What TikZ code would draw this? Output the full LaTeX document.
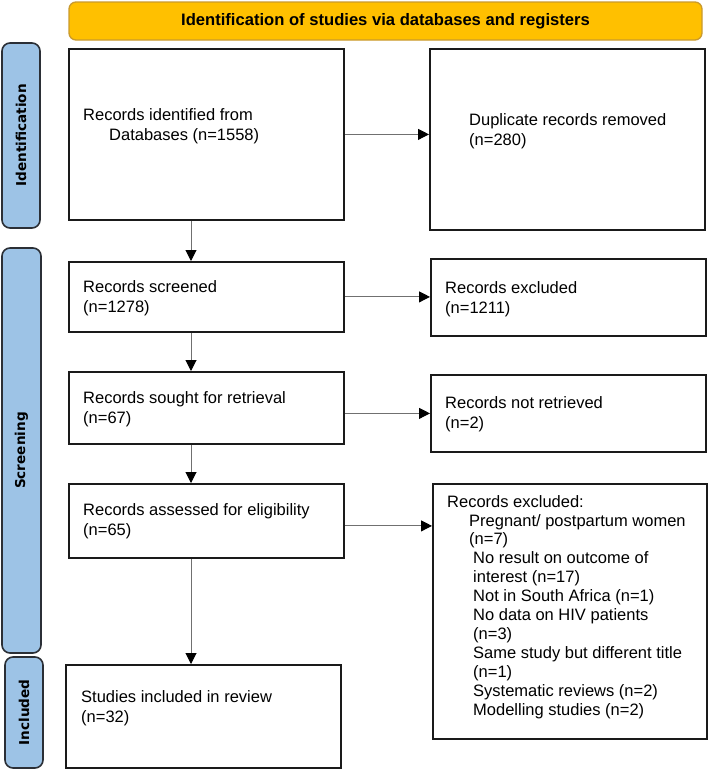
\documentclass[tikz,border=0pt]{standalone}
\usepackage{fontspec}
\setmainfont{Liberation Sans}
\newfontfamily\sidefont{DejaVu Sans}
\usetikzlibrary{arrows.meta,calc}
\definecolor{bannerfill}{HTML}{FFC000}
\definecolor{bannerborder}{HTML}{C99A2E}
\definecolor{sidefill}{HTML}{9DC3E6}
\definecolor{sideborder}{HTML}{2B2F36}
\definecolor{arrowgray}{HTML}{707070}
\definecolor{boxborder}{HTML}{1A1A1A}
\begin{document}
\begin{tikzpicture}[x=1pt,y=-1pt,
  box/.style={draw=boxborder, line width=1.8pt, fill=white, inner sep=0pt, anchor=north west},
  txt/.style={font=\fontsize{16.5}{19.3}\selectfont, align=left, inner sep=0pt, anchor=base west},
  side/.style={draw=sideborder, line width=1.6pt, fill=sidefill, rounded corners=8pt, inner sep=0pt, rotate=90,
    font=\sidefont\bfseries\fontsize{13.6}{15}\selectfont},
  arr/.style={draw=arrowgray, line width=1pt, -{Triangle[length=11pt,width=11pt,color=black]}}]
\useasboundingbox (0,0) rectangle (708,771);

% banner
\node[draw=bannerborder, line width=1.3pt, fill=bannerfill, rounded corners=7pt,
  minimum width=633pt, minimum height=38pt, inner sep=0pt,
  font=\bfseries\fontsize{16.6}{18}\selectfont] (banner) at (385.5,21)
  {Identification of studies via databases and registers};

% side bars
\node[side, minimum width=185pt, minimum height=38pt] (sident) at (21,135.5) {Identification};
\node[side, minimum width=405pt, minimum height=39pt] (sscreen) at (21.5,450.5) {Screening};
\node[side, minimum width=111pt, minimum height=38pt] (sincl) at (24,712.5) {Included};

% boxes
\node[box, minimum width=275pt, minimum height=171pt] (box1) at (68,48) {};
\node[box, minimum width=275pt, minimum height=181pt] (box2) at (429,48) {};
\node[box, minimum width=275pt, minimum height=70pt] (scr) at (68,261) {};
\node[box, minimum width=275pt, minimum height=77pt] (exc) at (430,258) {};
\node[box, minimum width=275pt, minimum height=72pt] (ret) at (68,371) {};
\node[box, minimum width=275pt, minimum height=77pt] (nret) at (430,374) {};
\node[box, minimum width=275pt, minimum height=74pt] (elig) at (68,483) {};
\node[box, minimum width=274pt, minimum height=255pt] (exc2) at (432,483) {};
\node[box, minimum width=275pt, minimum height=103pt] (inc) at (65,664) {};

% texts (anchor = baseline of the last line)
\node[txt] (t1) at (83,140) {Records identified from\\\hspace*{26pt}Databases (n=1558)};
\node[txt] (t2) at (469,145) {Duplicate records removed\\(n=280)};
\node[txt] (t3) at (83,312) {Records screened\\(n=1278)};
\node[txt] (t4) at (445,313) {Records excluded\\(n=1211)};
\node[txt] (t5) at (83,423) {Records sought for retrieval\\(n=67)};
\node[txt] (t6) at (445,428) {Records not retrieved\\(n=2)};
\node[txt] (t7) at (83,535) {Records assessed for eligibility\\(n=65)};
\node[txt, font=\fontsize{16.5}{18.9}\selectfont] (t8) at (447,715) {Records excluded:\\
  \hspace*{22pt}Pregnant/ postpartum women\\
  \hspace*{22pt}(n=7)\\
  \hspace*{26pt}No result on outcome of\\
  \hspace*{26pt}interest (n=17)\\
  \hspace*{26pt}Not in South Africa (n=1)\\
  \hspace*{26pt}No data on HIV patients\\
  \hspace*{26pt}(n=3)\\
  \hspace*{26pt}Same study but different title\\
  \hspace*{26pt}(n=1)\\
  \hspace*{26pt}Systematic reviews (n=2)\\
  \hspace*{26pt}Modelling studies (n=2)};
\node[txt] (t9) at (81,722) {Studies included in review\\(n=32)};

% connectors
\coordinate (vx) at (191,0);
\draw[arr] (box1.south -| vx) -- (scr.north -| vx);
\draw[arr] (scr.south -| vx) -- (ret.north -| vx);
\draw[arr] (ret.south -| vx) -- (elig.north -| vx);
\draw[arr] (elig.south -| vx) -- (inc.north -| vx);
\draw[arr] (box1.east) -- (box2.west |- box1.east);
\draw[arr] (scr.east) -- (exc.west |- scr.east);
\draw[arr] (ret.east |- nret.west) -- (nret.west);
\draw[arr] ([yshift=-5pt]elig.east) -- ([yshift=-5pt]elig.east -| exc2.west);
\end{tikzpicture}
\end{document}
